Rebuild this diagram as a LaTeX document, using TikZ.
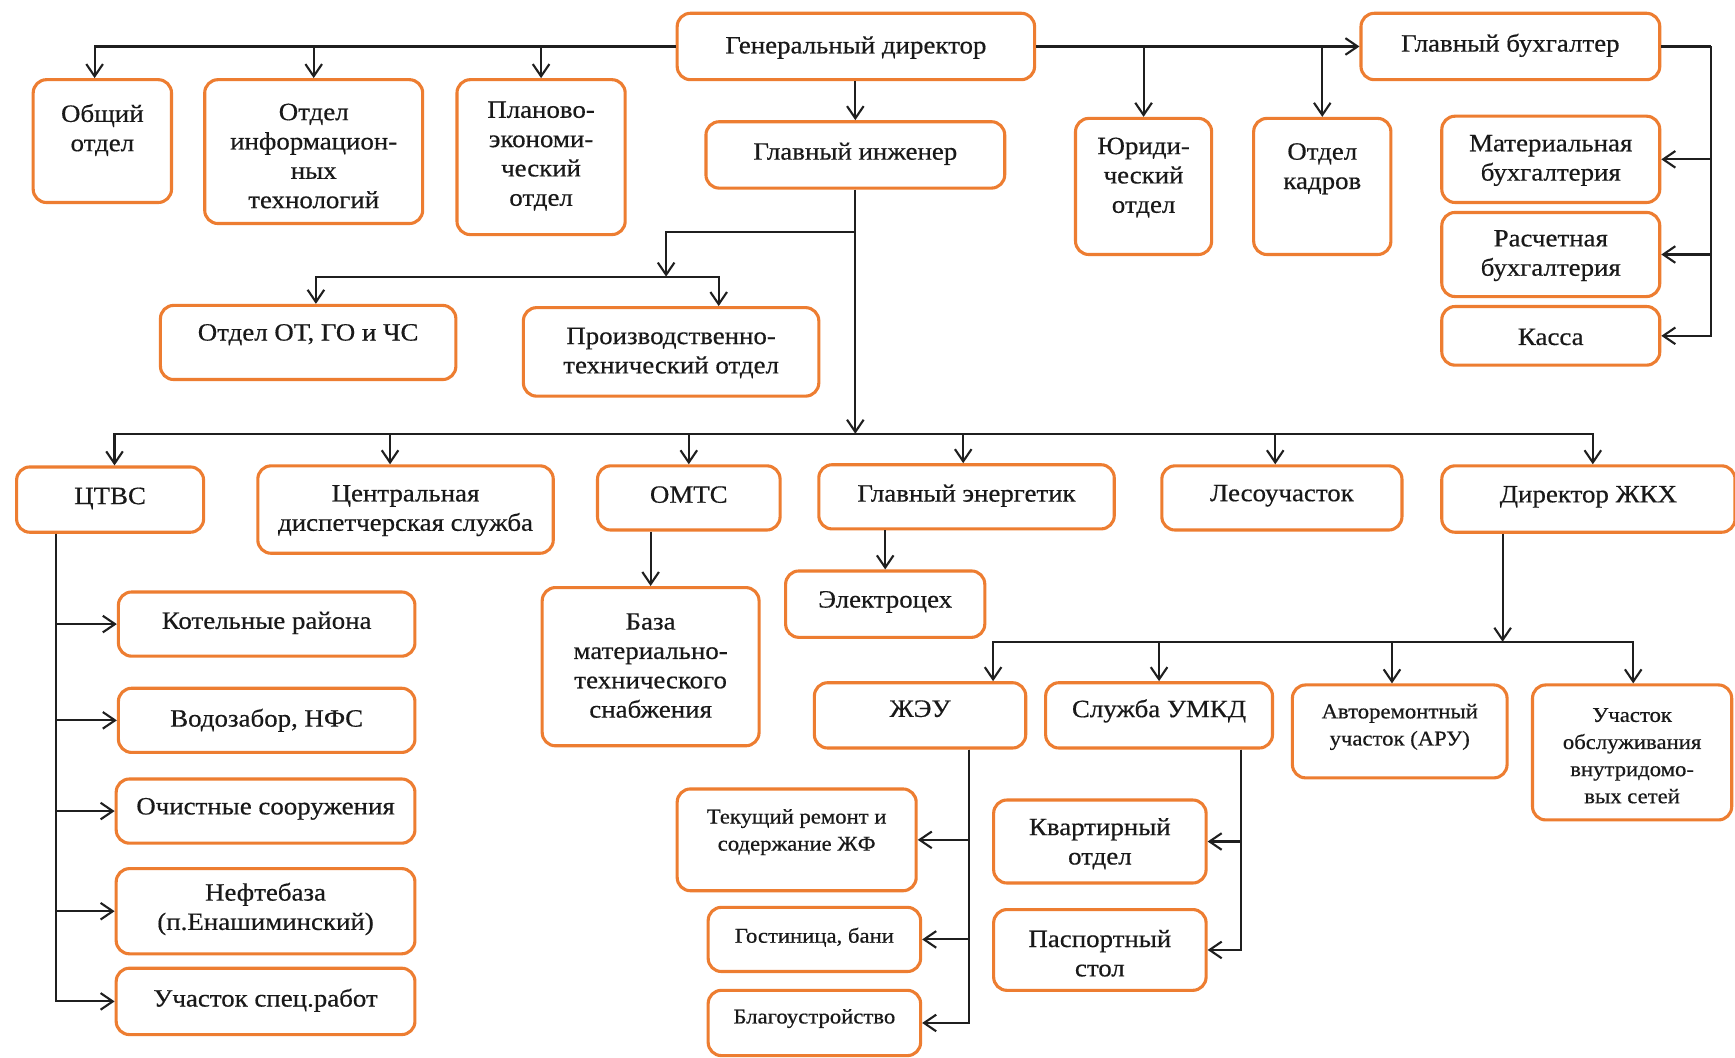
\documentclass[tikz,border=0pt]{standalone}
\usepackage{fontspec}
\setmainfont{Liberation Serif}[FakeStretch=1.08,FakeBold=0.5]
\usetikzlibrary{arrows.meta,fit,calc}
\definecolor{orangeb}{RGB}{237,125,49}
\tikzset{
 box/.style={draw=orangeb, line width=2.8pt, rounded corners=12pt, fill=white, inner sep=0pt},
 txt/.style={align=center, inner sep=0pt, font=\fontsize{22.5}{26.5}\selectfont, text=black!90},
 smalltxt/.style={txt, font=\fontsize{19}{24.5}\selectfont},
 conn/.style={draw=black!88, line width=1.9pt},
 arr/.style={conn, -{Straight Barb[length=11pt,width=15pt]}},
}
\newcommand\obox[7]{%
 \coordinate (#1a) at (#2,#3); \coordinate (#1b) at (#4,#5);
 \node[box, fit=(#1a)(#1b)] (#1) {};
 \node[txt] (#1t) at ([yshift=#6pt]#1.center) {#7};}
\newcommand\obsmall[7]{%
 \coordinate (#1a) at (#2,#3); \coordinate (#1b) at (#4,#5);
 \node[box, fit=(#1a)(#1b)] (#1) {};
 \node[smalltxt] (#1t) at ([yshift=#6pt]#1.center) {#7};}
\begin{document}
\begin{tikzpicture}[x=1pt,y=-1pt]
\fill[white] (0,0) rectangle (1568,956);
\useasboundingbox (0,0) rectangle (1568,956);
% boxes
\obox{gd}{612}{12}{935}{72}{-1}{Генеральный директор}
\obox{obsh}{30}{72}{155}{183}{10}{Общий\\отдел}
\obox{inf}{185}{72}{382}{202}{-4}{Отдел\\информацион-\\ных\\технологий}
\obox{plan}{413}{72}{565}{212}{1}{Планово-\\экономи-\\ческий\\отдел}
\obox{gb}{1230}{12}{1500}{72}{1}{Главный бухгалтер}
\obox{jur}{972}{107}{1095}{230}{8}{Юриди-\\ческий\\отдел}
\obox{kadr}{1133}{107}{1257}{230}{16}{Отдел\\кадров}
\obox{mat}{1303}{105}{1500}{183}{-1}{Материальная\\бухгалтерия}
\obox{ras}{1303}{192}{1500}{268}{-1}{Расчетная\\бухгалтерия}
\obox{kassa}{1303}{277}{1500}{330}{-1}{Касса}
\obox{gi}{638}{110}{908}{170}{1}{Главный инженер}
\obox{otgo}{145}{276}{412}{343}{7}{Отдел ОТ, ГО и ЧС}
\obox{pto}{473}{278}{740}{358}{-1}{Производственно-\\технический отдел}
\obox{ctvs}{15}{422}{184}{481}{1}{ЦТВС}
\obox{cds}{233}{421}{500}{500}{-1}{Центральная\\диспетчерская служба}
\obox{omts}{540}{421}{705}{479}{3}{ОМТС}
\obox{ge}{740}{420}{1007}{478}{1}{Главный энергетик}
\obox{les}{1050}{421}{1267}{479}{2}{Лесоучасток}
\obox{dzhkh}{1303}{421}{1568}{481}{2}{Директор ЖКХ}
\obox{kot}{107}{535}{375}{593}{1}{Котельные района}
\obox{vod}{107}{622}{375}{680}{0}{Водозабор, НФС}
\obox{och}{105}{704}{375}{762}{2}{Очистные сооружения}
\obox{neft}{105}{785}{375}{862}{2}{Нефтебаза\\(п.Енашиминский)}
\obox{spec}{105}{875}{375}{935}{1}{Участок спец.работ}
\obox{baza}{490}{531}{686}{674}{1}{База\\материально-\\технического\\снабжения}
\obox{elc}{710}{516}{890}{576}{2}{Электроцех}
\obox{zheu}{736}{617}{927}{676}{6}{ЖЭУ}
\obox{umkd}{945}{617}{1150}{676}{4}{Служба УМКД}
\obsmall{aru}{1168}{619}{1362}{703}{4}{Авторемонтный\\участок (АРУ)}
\obsmall{uch}{1385}{619}{1565}{741}{-3}{Участок\\обслуживания\\внутридомо-\\вых сетей}
\obsmall{tek}{612}{713}{828}{805}{7}{Текущий ремонт и\\содержание ЖФ}
\obsmall{gost}{640}{820}{832}{878}{2}{Гостиница, бани}
\obsmall{blag}{640}{895}{832}{954}{4}{Благоустройство}
\obox{kv}{898}{723}{1090}{798}{-2}{Квартирный\\отдел}
\obox{pasp}{898}{822}{1090}{895}{-3}{Паспортный\\стол}
% connectors: top level
\draw[arr] (gd.west) -| ([xshift=-7]obsh.north);
\draw[arr] (gd.west) -| (inf.north);
\draw[arr] (gd.west) -| (plan.north);
\draw[arr] (gd.east) -- (gb.west);
\draw[arr] (gd.east -| jur.north) -- (jur.north);
\draw[arr] (gd.east -| kadr.north) -- (kadr.north);
\coordinate (gbr) at ([xshift=45]gb.east);
\draw[conn] (gb.east) -- (gbr);
\draw[arr] (gbr) |- (mat.east);
\draw[arr] (gbr) |- (ras.east);
\draw[arr] (gbr) |- (kassa.east);
\draw[arr] (gd.south -| gi.north) -- (gi.north);
% chief engineer
\coordinate (br1) at (773,210);
\coordinate (bus1) at (602,250);
\coordinate (bus2) at (773,392);
\draw[arr] (gi.south) -- (bus2);
\draw[arr] (br1) -| (bus1);
\draw[arr] (bus1) -| ([xshift=7]otgo.north);
\draw[arr] (bus1) -| ([xshift=43]pto.north);
\draw[arr] (bus2) -| ([xshift=4]ctvs.north);
\draw[arr] (bus2) -| ([xshift=-14]cds.north);
\draw[arr] (bus2) -| (omts.north);
\draw[arr] (bus2) -| ([xshift=-3]ge.north);
\draw[arr] (bus2) -| ([xshift=-6]les.north);
\draw[arr] (bus2) -| ([xshift=4]dzhkh.north);
% CTVS
\coordinate (ct0) at ([xshift=37]ctvs.south west);
\draw[arr] (ct0) |- (kot.west);
\draw[arr] (ct0) |- (vod.west);
\draw[arr] (ct0) |- (och.west);
\draw[arr] (ct0) |- (neft.west);
\draw[arr] (ct0) |- (spec.west);
% OMTS, energetic
\draw[arr] (omts.south -| baza.north) -- (baza.north);
\draw[arr] (ge.south -| elc.north) -- (elc.north);
% ZhKH
\coordinate (bus3) at (1358,580);
\draw[arr] (dzhkh.south -| bus3) -- (bus3);
\draw[arr] (bus3) -| ([xshift=66]zheu.north);
\draw[arr] (bus3) -| (umkd.north);
\draw[arr] (bus3) -| ([xshift=-7]aru.north);
\draw[arr] (bus3) -| ([xshift=1]uch.north);
\coordinate (zh0) at ([xshift=-53]zheu.south east);
\draw[arr] (zh0) |- (tek.east);
\draw[arr] (zh0) |- (gost.east);
\draw[arr] (zh0) |- (blag.east);
\coordinate (um0) at ([xshift=-30]umkd.south east);
\draw[arr] (um0) |- (kv.east);
\draw[arr] (um0) |- (pasp.east);
\end{tikzpicture}
\end{document}
